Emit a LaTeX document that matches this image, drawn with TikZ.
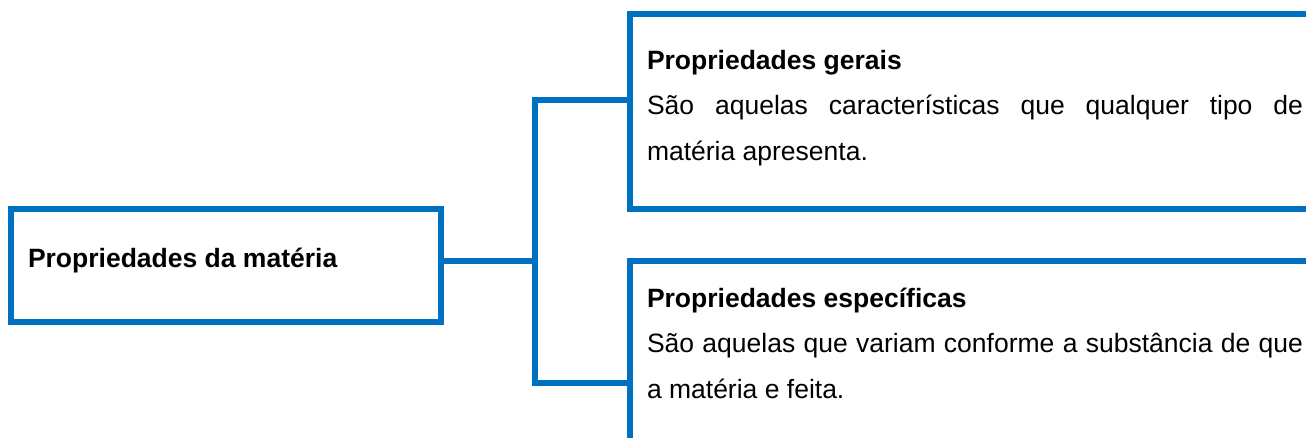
\documentclass[tikz,border=0pt]{standalone}
\usepackage{fontspec}
\setmainfont{Liberation Sans}
\usetikzlibrary{positioning}
\definecolor{boxblue}{RGB}{0,112,192}

\begin{document}
\begin{tikzpicture}[x=1pt,y=-1pt,line width=6pt,
    box/.style={draw=boxblue,rectangle,outer sep=0pt,inner sep=0pt,anchor=north west},
    txt/.style={anchor=north west,inner sep=0pt,text width=656pt,align=justify,font=\fontsize{26.5}{45.5}\selectfont},
    link/.style={draw=boxblue,line cap=rect}]
    \clip (0,0) rectangle (1306,437);
    \node[box,minimum width=430pt,minimum height=113pt] (main) at (11,209) {};
    \node[anchor=base west,inner sep=0pt,font=\fontsize{26.5}{30}\selectfont\bfseries] (maintxt) at (25,267) {Propriedades da matéria};
    \node[box,minimum width=720pt,minimum height=195pt] (gerais) at (630,14) {};
    \node[txt] (geraistxt) at (644,47) {\textbf{Propriedades gerais}\\
        São aquelas características que qualquer tipo de\linebreak matéria apresenta.};
    \node[box,minimum width=720pt,minimum height=220pt] (espec) at (630,261) {};
    \node[txt] (espectxt) at (644,285) {\textbf{Propriedades específicas}\\
        São aquelas que variam conforme a substância de que\linebreak a matéria e feita.};
    % ligacoes
    \coordinate (jtop) at (535,100);
    \coordinate (jbot) at (535,383);
    \path[link] (jtop) -- (jbot);
    \path[link] (jtop) -- (jtop -| gerais.west);
    \path[link] (jbot) -- (jbot -| espec.west);
    \path[link] ([yshift=5pt]main.east) -- ([yshift=5pt]main.east -| jtop);
\end{tikzpicture}
\end{document}
